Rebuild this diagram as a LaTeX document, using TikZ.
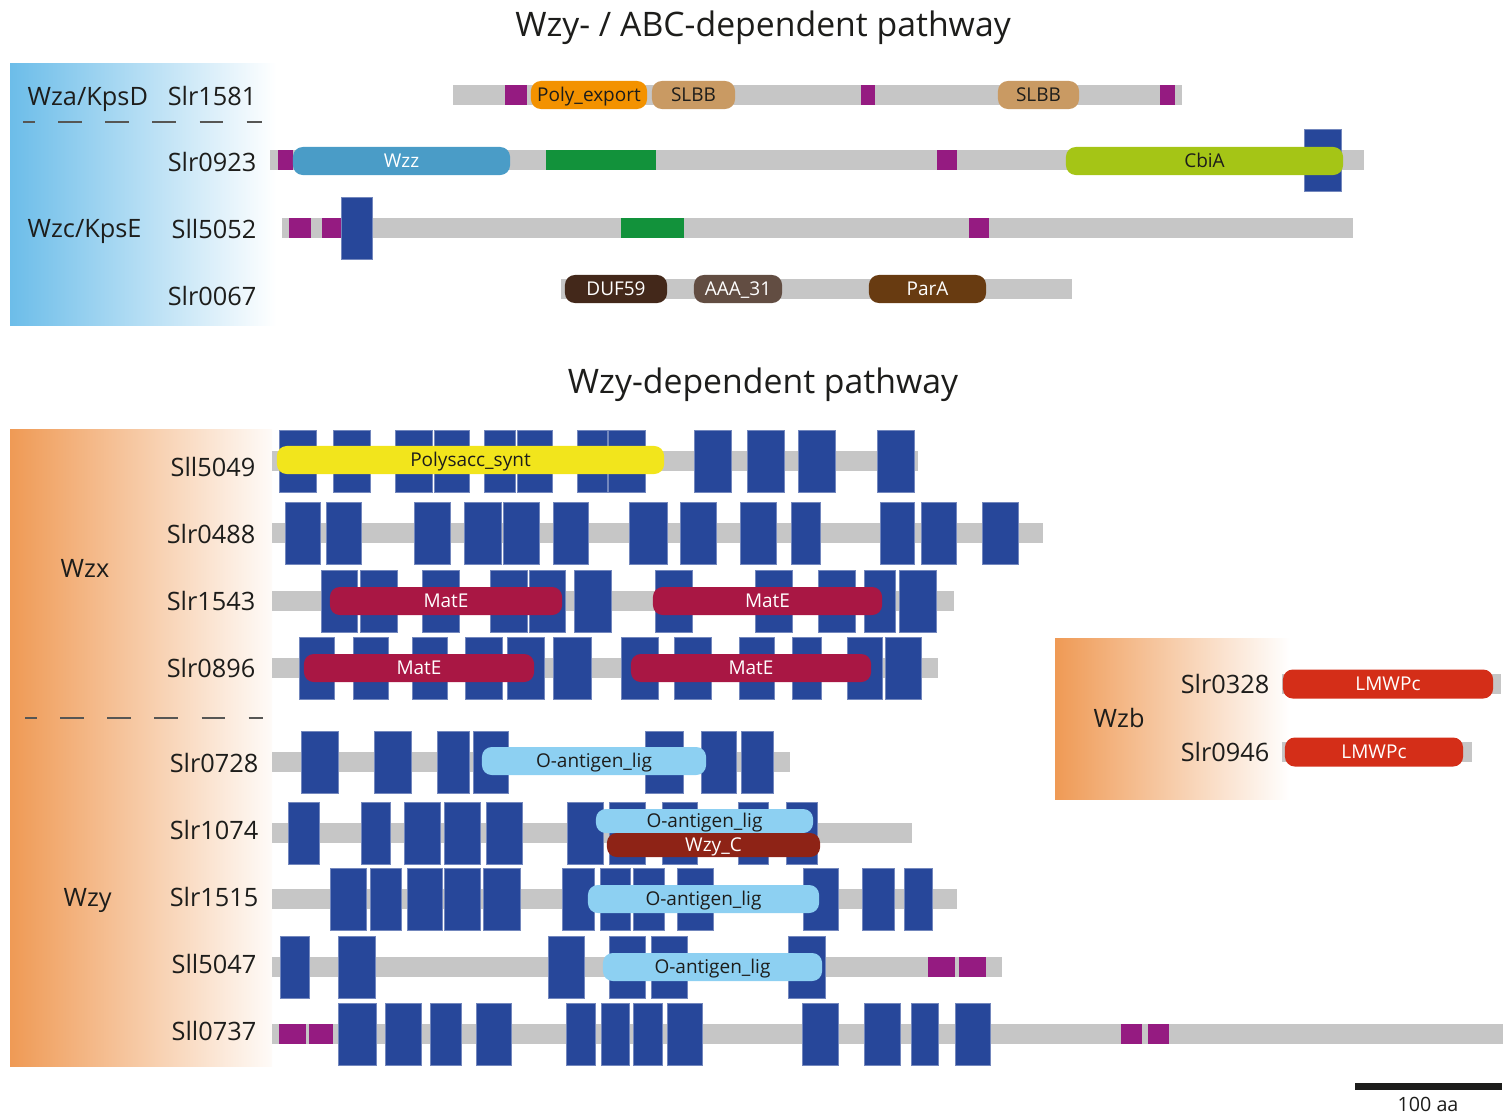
\documentclass[tikz,border=0pt]{standalone}
\usepackage{fontspec}
\setmainfont{Open Sans}
\usetikzlibrary{positioning}
\definecolor{ink}{HTML}{1D1D1B}
\definecolor{chaingrey}{HTML}{C6C6C6}
\definecolor{tmblue}{HTML}{27479A}
\definecolor{sigpurple}{HTML}{951B81}
\definecolor{ccgreen}{HTML}{12923B}
\definecolor{wzzblue}{HTML}{4A9CC7}
\definecolor{cbialime}{HTML}{A5C516}
\definecolor{polyorange}{HTML}{F39200}
\definecolor{slbbtan}{HTML}{C99A63}
\definecolor{dufbrown}{HTML}{43281A}
\definecolor{aaabrown}{HTML}{624D42}
\definecolor{parabrown}{HTML}{683B11}
\definecolor{synyellow}{HTML}{F2E51C}
\definecolor{matered}{HTML}{A91744}
\definecolor{ligblue}{HTML}{8DD0F2}
\definecolor{wzyred}{HTML}{8E2316}
\definecolor{lmwred}{HTML}{D42E18}
\definecolor{abcblue}{HTML}{6CBDE9}
\definecolor{wzorange}{HTML}{EF9A55}
\tikzset{
  chain/.style={fill=chaingrey},
  tm/.style={fill=tmblue,draw=tmblue!65!white,line width=0.25pt},
  sig/.style={fill=sigpurple},
  cc/.style={fill=ccgreen},
  pfam/.style={rounded corners=2.8pt,minimum height=0.28cm,inner sep=0pt,
    text height=3.9pt,text depth=0pt,text=ink,font=\fontsize{5.4}{6}\selectfont},
  dark/.style={text=white},
  gene/.style={anchor=base east,inner sep=0pt,text=ink,font=\fontsize{7.2}{8}\selectfont},
  group/.style={anchor=base west,inner sep=0pt,text=ink,font=\fontsize{7.2}{8}\selectfont},
  title/.style={anchor=base,inner sep=0pt,text=ink,font=\fontsize{9.6}{11}\selectfont},
  divider/.style={draw=ink!75,line width=0.6pt,dash pattern=on 6.8pt off 6.6pt,dash phase=3.4pt}
}
% grey chain: x1, x2, y
\newcommand{\chainbar}[3]{\fill[chain] (#1,#3-10) rectangle (#2,#3+10);}
% transmembrane helices on a chain at y
\newcommand{\tmrow}[2]{\foreach \a/\b in {#2} {\fill[tm] (\a,#1-31) rectangle (\b,#1+31);}}
% short motifs painted on the chain
\newcommand{\motif}[4]{\foreach \a/\b in {#4} {\fill[#1] (\a,#2-#3) rectangle (\b,#2+#3);}}
% pfam domain: name, x1, x2, y, style, label
\newcommand{\pfam}[6]{%
  \pgfmathsetmacro{\pfc}{(#2+#3)/2}%
  \pgfmathsetmacro{\pfw}{(#3-#2)/100}%
  \node[pfam,#5,minimum width=\pfw cm] (#1) at (\pfc,#4) {#6};}

\begin{document}
\begin{tikzpicture}[x=0.01cm,y=-0.01cm]
  \useasboundingbox (0,0) rectangle (1503,1115);

  % titles and group panels
  \node[title] (titleabc) at (763,36) {Wzy- / ABC-dependent pathway};
  \node[title] (titlewzy) at (763,393) {Wzy-dependent pathway};
  \shade[left color=abcblue,right color=white] (10,63) rectangle (276,325);
  \shade[left color=wzorange,right color=white!96!wzorange] (10,429) rectangle (272,1066);
  \shade[left color=wzorange,right color=white] (1055,638) rectangle (1290,799);
  \draw[divider] (23,122) -- (262,122);
  \draw[divider] (25,718) -- (263,718);

  \node[group] (wza) at (27,105) {Wza/KpsD};
  \node[group] (wzc) at (27,237) {Wzc/KpsE};
  \node[group] (wzx) at (60,577) {Wzx};
  \node[group] (wzy) at (63,906) {Wzy};
  \node[group] (wzb) at (1093,727) {Wzb};

  % Wza / Wzc proteins
  \node[gene] (g1581) at (257,105) {Slr1581};
  \chainbar{453}{1182}{95}
  \motif{sig}{95}{10}{505/527,861/875,1160/1175}
  \pfam{p1581a}{531}{647}{95}{fill=polyorange}{Poly\_export}
  \pfam{p1581b}{652}{735}{95}{fill=slbbtan}{SLBB}
  \pfam{p1581c}{998}{1079}{95}{fill=slbbtan}{SLBB}

  \node[gene] (g0923) at (257,171) {Slr0923};
  \chainbar{270}{1364}{160}
  \motif{sig}{160}{10}{278/293,937/957}
  \motif{cc}{160}{10}{546/656}
  \tmrow{160}{1304/1341}
  \pfam{p0923a}{293}{510}{161}{fill=wzzblue,dark}{Wzz}
  \pfam{p0923b}{1066}{1343}{161}{fill=cbialime}{CbiA}

  \node[gene] (g5052) at (257,238) {Sll5052};
  \chainbar{282}{1353}{228}
  \motif{sig}{228}{10}{289/311,322/341,969/989}
  \motif{cc}{228}{10}{621/684}
  \tmrow{228}{341/372}

  \node[gene] (g0067) at (257,305) {Slr0067};
  \chainbar{561}{1072}{289}
  \pfam{p0067a}{565}{667}{289}{fill=dufbrown,dark}{DUF59}
  \pfam{p0067b}{694}{782}{289}{fill=aaabrown,dark}{AAA\_31}
  \pfam{p0067c}{869}{986}{289}{fill=parabrown,dark}{ParA}

  % Wzx flippases
  \node[gene] (g5049) at (256,476) {Sll5049};
  \chainbar{272}{918}{461}
  \tmrow{461}{279/316,333/370,395/432,434/469,484/515,517/552,577/607,608/645,694/731,747/784,798/835,877/914}
  \pfam{p5049}{277}{664}{460}{fill=synyellow}{Polysacc\_synt}

  \node[gene] (g0488) at (256,543) {Slr0488};
  \chainbar{272}{1043}{533}
  \tmrow{533}{285/320,326/361,414/450,464/501,503/539,553/588,629/667,680/716,740/776,791/820,880/914,921/956,982/1018}

  \node[gene] (g1543) at (256,610) {Slr1543};
  \chainbar{272}{954}{601}
  \tmrow{601}{321/357,360/397,422/459,490/527,529/565,574/611,655/692,755/792,818/855,864/895,899/936}
  \pfam{p1543a}{330}{562}{601}{fill=matered,dark}{MatE}
  \pfam{p1543b}{653}{882}{601}{fill=matered,dark}{MatE}

  \node[gene] (g0896) at (256,677) {Slr0896};
  \chainbar{272}{938}{668}
  \tmrow{668}{299/334,353/388,412/447,465/502,507/544,553/591,621/658,674/711,739/774,792/821,847/882,885/921}
  \pfam{p0896a}{304}{534}{668}{fill=matered,dark}{MatE}
  \pfam{p0896b}{631}{871}{668}{fill=matered,dark}{MatE}

  % Wzy polymerases
  \node[gene] (g0728) at (259,772) {Slr0728};
  \chainbar{272}{790}{762}
  \tmrow{762}{301/338,374/411,437/469,473/508,645/683,701/736,741/773}
  \pfam{p0728}{482}{706}{761}{fill=ligblue}{O-antigen\_lig}

  \node[gene] (g1074) at (259,839) {Slr1074};
  \chainbar{272}{912}{833}
  \tmrow{833}{288/319,361/390,404/440,444/480,486/522,567/603,609/645,662/697,738/768,786/817}
  \pfam{p1074a}{596}{813}{821}{fill=ligblue,minimum height=0.24cm}{O-antigen\_lig}
  \pfam{p1074b}{607}{820}{845}{fill=wzyred,dark,minimum height=0.24cm}{Wzy\_C}

  \node[gene] (g1515) at (259,906) {Slr1515};
  \chainbar{272}{957}{899}
  \tmrow{899}{330/366,370/401,407/442,444/480,483/520,562/594,600/630,633/664,677/713,803/838,862/894,904/932}
  \pfam{p1515}{588}{819}{899}{fill=ligblue}{O-antigen\_lig}

  \node[gene] (g5047) at (257,973) {Sll5047};
  \chainbar{272}{1002}{967}
  \motif{sig}{967}{10}{928/955,959/986}
  \tmrow{967}{280/309,338/375,548/584,609/645,651/687,788/825}
  \pfam{p5047}{603}{822}{967}{fill=ligblue}{O-antigen\_lig}

  \node[gene] (g0737) at (257,1040) {Sll0737};
  \chainbar{272}{1503}{1034}
  \motif{sig}{1034}{10}{279/306,309/333,1121/1142,1148/1169}
  \tmrow{1034}{338/376,385/421,430/461,476/511,566/595,601/629,633/662,667/702,802/838,864/900,911/938,955/990}

  % Wzb phosphatases
  \node[gene] (g0328) at (1270,693) {Slr0328};
  \chainbar{1282}{1501}{684}
  \pfam{p0328}{1283}{1493}{684}{fill=lmwred,dark,minimum height=0.29cm}{LMWPc}

  \node[gene] (g0946) at (1270,761) {Slr0946};
  \chainbar{1282}{1472}{752}
  \pfam{p0946}{1285}{1463}{752}{fill=lmwred,dark,minimum height=0.29cm}{LMWPc}

  % scale bar
  \fill[ink] (1355,1083) rectangle (1502,1090);
  \node[inner sep=0pt,text=ink,font=\fontsize{5.6}{6}\selectfont] (scale) at (1428,1104) {100 aa};
\end{tikzpicture}
\end{document}
